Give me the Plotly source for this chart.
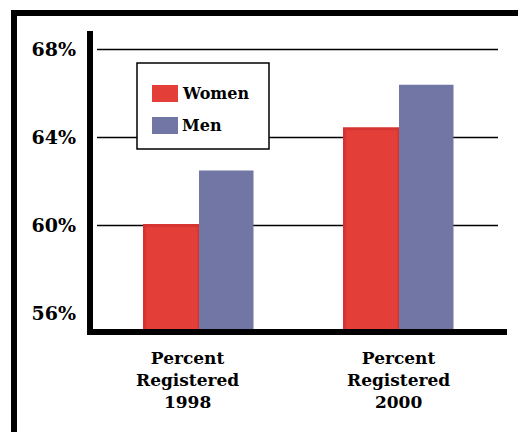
import plotly.graph_objects as go

# ---- data ----
categories = ["Percent<br>Registered<br>1998", "Percent<br>Registered<br>2000"]
series_names = ["Women", "Men"]
women_values = [60.0, 64.4]
men_values = [62.5, 66.4]
y_tick_values = [56, 60, 64, 68]
y_tick_labels = ["56%", "60%", "64%", "68%"]
grid_values = [60, 64, 68]

# ---- style ----
OFF = 8  # page body margin in the browser
W, H = 526 - OFF, 432 - OFF
PL, PR, PT, PB = 99 - OFF, 499 - OFF, 31 - OFF, 332 - OFF  # plot area in figure pixels
colors = {"Women": "#E43E38", "Men": "#7276A4"}
outline = {"Women": "#D53430", "Men": "#7276A4"}
FONT = "DejaVu Serif"

def px_x(p):  # p is a screen pixel x in the reference
    return (p - OFF - PL) / (PR - PL)

def px_y(p):
    return (PB - (p - OFF)) / (PB - PT)

fig = go.Figure()
for name, vals in zip(series_names, [women_values, men_values]):
    fig.add_trace(go.Bar(
        x=categories, y=vals, name=name,
        marker=dict(color=colors[name], line=dict(color=outline[name], width=3 if name == "Women" else 0)),
        showlegend=False,
    ))

shapes = []
# gridlines
for g in grid_values:
    shapes.append(dict(type="line", xref="paper", yref="y", x0=px_x(97), x1=px_x(498), y0=g, y1=g,
                       line=dict(color="black", width=1.4), layer="below"))
# outer frame (top and left)
shapes.append(dict(type="rect", xref="paper", yref="paper", x0=px_x(11), x1=px_x(540),
                   y0=px_y(10), y1=px_y(16), fillcolor="black", line=dict(width=0)))
shapes.append(dict(type="rect", xref="paper", yref="paper", x0=px_x(11), x1=px_x(17),
                   y0=px_y(10), y1=px_y(450), fillcolor="black", line=dict(width=0)))
# axis lines
shapes.append(dict(type="rect", xref="paper", yref="paper", x0=px_x(87), x1=px_x(93),
                   y0=px_y(31), y1=px_y(335), fillcolor="black", line=dict(width=0)))
shapes.append(dict(type="rect", xref="paper", yref="paper", x0=px_x(87), x1=px_x(507),
                   y0=px_y(329), y1=px_y(335), fillcolor="black", line=dict(width=0)))
# legend box
shapes.append(dict(type="rect", xref="paper", yref="paper", x0=px_x(137), x1=px_x(269),
                   y0=px_y(63), y1=px_y(149), fillcolor="white", line=dict(color="black", width=1.5)))
annotations = []
for i, name in enumerate(series_names):
    top = 85 + i * 32
    shapes.append(dict(type="rect", xref="paper", yref="paper", x0=px_x(152), x1=px_x(178),
                       y0=px_y(top), y1=px_y(top + 17), fillcolor=colors[name], line=dict(width=0)))
    annotations.append(dict(text=name, xref="paper", yref="paper", x=px_x(180), y=px_y(top + 8.5),
                            xanchor="left", yanchor="middle", showarrow=False,
                            font=dict(family=FONT, size=16, color="black", weight="bold")))

# category labels
label_shift = [-12, -1]
for cat, sh in zip(categories, label_shift):
    annotations.append(dict(text=cat, xref="x", yref="paper", x=cat, y=px_y(380), xshift=sh,
                            xanchor="center", yanchor="middle", showarrow=False, align="center",
                            font=dict(family=FONT, size=17, color="black", weight="bold")))

fig.update_layout(
    width=W, height=H,
    margin=dict(l=PL, r=W - PR, t=PT, b=H - PB, pad=0),
    paper_bgcolor="white", plot_bgcolor="white",
    barmode="group", bargap=0.455, bargroupgap=0,
    shapes=shapes, annotations=annotations,
    xaxis=dict(showticklabels=False, showgrid=False, zeroline=False, showline=False,
               range=[-0.5, 1.5], fixedrange=True),
    yaxis=dict(range=[55.16, 68.84], tickvals=y_tick_values, ticktext=y_tick_labels,
               showgrid=False, zeroline=False, showline=False, ticks="",
               ticklabelstandoff=22,
               tickfont=dict(family=FONT, size=19, color="black", weight="bold")),
    font=dict(family=FONT),
)

fig.write_html("out.html")
